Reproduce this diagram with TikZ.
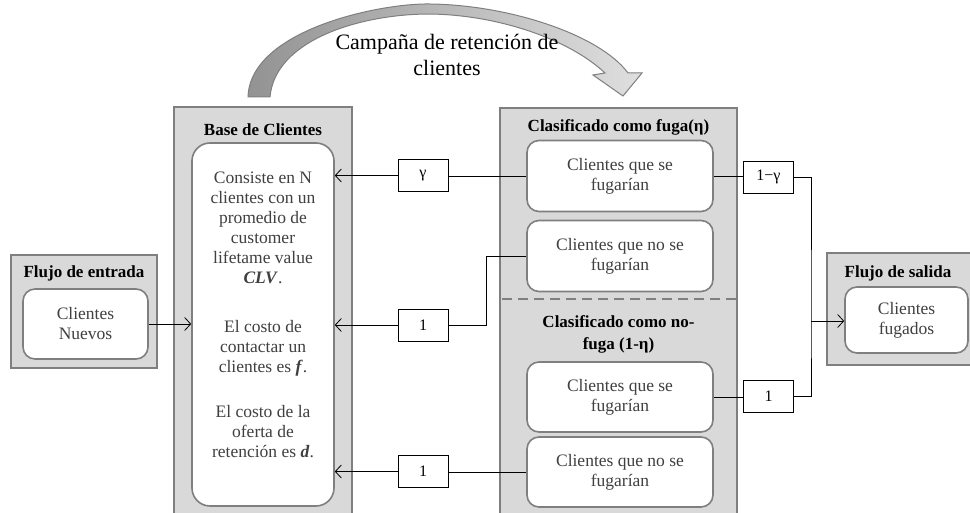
\documentclass[tikz,border=0pt]{standalone}
\usepackage{fontspec}
\setmainfont{Liberation Serif}
\usepackage{tikz}
\usetikzlibrary{arrows.meta}
\definecolor{boxgray}{HTML}{D9D9D9}
\definecolor{linegray}{HTML}{7F7F7F}
\definecolor{txtgray}{HTML}{404040}

\begin{document}
\begin{tikzpicture}[x=1pt,y=-1pt,>={Straight Barb[length=6pt,width=13pt]},
	outerbox/.style={draw=linegray,line width=2.5pt,fill=boxgray,inner sep=0pt},
	innerbox/.style={draw=linegray,line width=1.6pt,fill=white,rounded corners=12pt,inner sep=0pt,
		minimum width=186pt,minimum height=71pt,align=center,text=txtgray,font=\fontsize{17.5}{20}\selectfont},
	innertxt/.style={align=center,text=txtgray,font=\fontsize{17.5}{20}\selectfont},
	hdr/.style={font=\fontsize{17}{22}\selectfont\bfseries,align=center},
	lbl/.style={draw,fill=white,line width=0.8pt,minimum width=50pt,minimum height=32pt,inner sep=0pt,
		font=\fontsize{16}{18}\selectfont},
	flow/.style={line width=0.8pt}]
				\useasboundingbox (0,0) rectangle (970,513);
				% campaign arrow
				\shadedraw[left color=gray!85,right color=gray!25,draw=linegray,line width=1pt]
				(248,97) .. controls (250,30) and (380,3) .. (430,4)
				.. controls (510,5) and (600,35) .. (628,73) -- (642,73) -- (623,96) -- (593,75) -- (605,73)
				.. controls (570,40) and (500,15) .. (430,14)
				.. controls (360,14) and (275,40) .. (270,97) -- cycle;
				\node[font=\fontsize{22}{26}\selectfont,align=center] (camp) at (447,55) {Campaña de retención de\\clientes};

				\node[outerbox,minimum width=146pt,minimum height=113pt] (ent) at (84,311.5) {};
				\node[hdr] (enth) at (84,273) {Flujo de entrada};
				\node[innerbox,minimum width=125pt,minimum height=70pt] (ein) at (85.5,324) {Clientes\\Nuevos};

				\node[outerbox,minimum width=178pt,minimum height=413pt] (base) at (263,313.5) {};
				\node[hdr] (baseh) at (263,130) {Base de Clientes};
				\node[innerbox,minimum width=142pt,minimum height=363pt,rounded corners=18pt] (bin) at (263,324.5) {};
				\node[innertxt] (b1) at (263,228) {Consiste en N\\clientes con un\\promedio de\\customer\\lifetame value\\\textbf{\textit{CLV}}.};
				\node[innertxt] (b2) at (263,348) {El costo de\\contactar un\\clientes es \textbf{\textit{f}}.};
				\node[innertxt] (b3) at (263,432) {El costo de la\\oferta de\\retención es \textbf{\textit{d}}.};

				\node[outerbox,minimum width=237pt,minimum height=412pt] (clas) at (618.5,314) {};
				\node[hdr] (clh1) at (618.5,127) {Clasificado como fuga(η)};
				\node[innerbox] (f1) at (620,176) {Clientes que se\\fugarían};
				\node[innerbox] (f2) at (620,256) {Clientes que no se\\fugarían};
				\draw[linegray,line width=2.5pt,dash pattern=on 10pt off 6pt] (502,299) -- (736,299);
				\node[hdr] (clh2) at (618.5,334) {Clasificado como no-\\fuga (1-η)};
				\node[innerbox,minimum height=70pt] (f3) at (620,397) {Clientes que se\\fugarían};
				\node[innerbox,minimum height=70pt] (f4) at (620,472) {Clientes que no se\\fugarían};

				\node[outerbox,minimum width=148pt,minimum height=112pt] (sal) at (901,309) {};
				\node[hdr] (salh) at (898,273) {Flujo de salida};
				\node[innerbox,minimum width=123pt,minimum height=66pt] (sin) at (906.5,320) {Clientes\\fugados};

				\node[lbl] (g) at (423,175.5) {γ};
				\node[lbl] (o1) at (423,325) {1};
				\node[lbl] (o2) at (423,471.5) {1};
				\node[lbl] (og) at (768.5,177) {1−γ};
				\node[lbl] (o3) at (768.5,396.5) {1};
				\coordinate (j) at (811,321);

				\draw[flow,->] (ein.east) -- (ein.east -| bin.west);
				\draw[flow] (f1.west) -- (f1.west -| g.east);
				\draw[flow,->] (g.west) -- (g.west -| bin.east);
				\draw[flow] (f2.west) -- ++(-40,0) |- (o1.east);
				\draw[flow,->] (o1.west) -- (o1.west -| bin.east);
				\draw[flow] (f4.west) -- (f4.west -| o2.east);
				\draw[flow,->] (o2.west) -- (o2.west -| bin.east);
				\draw[flow] (f1.east) -- (f1.east -| og.west);
				\draw[flow] (f3.east) -- (f3.east -| o3.west);
				\draw[flow] (og.east) -| (j) |- (o3.east);
				\draw[flow,->] (j) -- (j -| sin.west);
			\end{tikzpicture}
\end{document}
